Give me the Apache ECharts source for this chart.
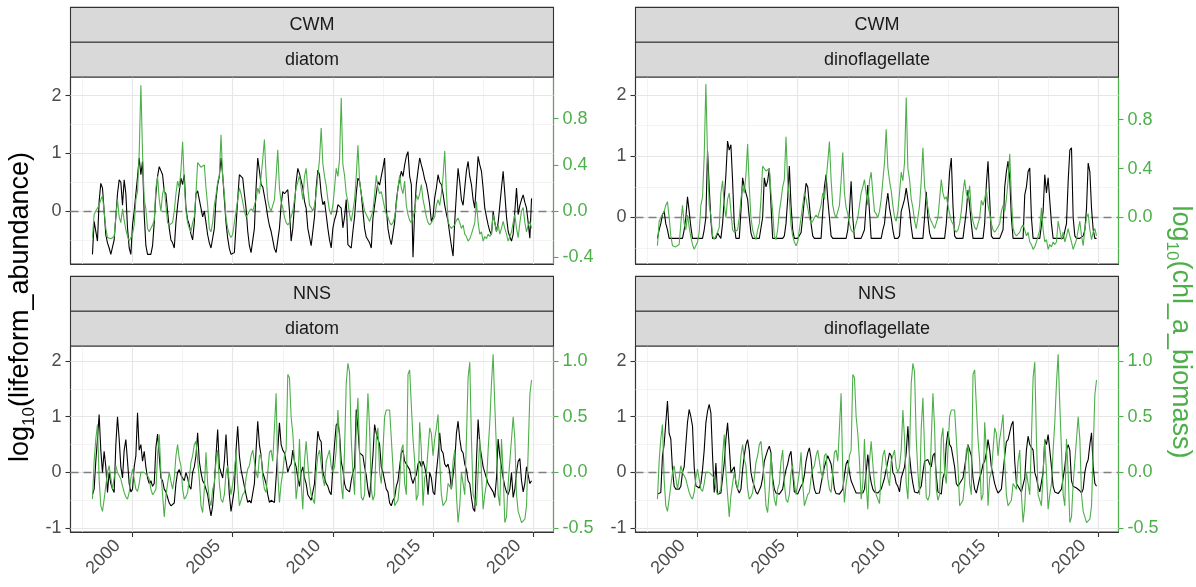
<!DOCTYPE html>
<html>
<head>
<meta charset="utf-8">
<script src="https://cdn.jsdelivr.net/npm/echarts@6/dist/echarts.min.js"></script>
<style>
  html, body { margin: 0; padding: 0; background: #fff; }
  #chart { width: 1196px; height: 587px; }
</style>
</head>
<body>
<div id="chart"></div>
<script>
// monthly series, Jan 1998 .. Dec 2019, one row per year
const startYear = 1998
const endYear = 2019
const yearTicks = [2000, 2005, 2010, 2015, 2020]
const abundanceTicksTop = [0, 1, 2]
const abundanceTicksBottom = [-1, 0, 1, 2]
const chlTicksTop = [-0.4, 0, 0.4, 0.8]
const chlTicksBottom = [-0.5, 0, 0.5, 1]
const regions = ['CWM', 'CWM', 'NNS', 'NNS']
const lifeforms = ['diatom', 'dinoflagellate', 'diatom', 'dinoflagellate']

// log10(lifeform_abundance), CWM diatom
const cwmDiatom = [
  -0.75, -0.18, -0.21, -0.52, 0.17, 0.48, 0.40, 0.00, -0.41, -0.55, -0.64, -0.75,
  -0.72, -0.50, -0.10, 0.30, 0.54, 0.50, 0.10, 0.54, 0.30, -0.29, -0.64, -0.75,
  -0.24, 0.00, 0.30, 0.60, 0.92, 0.63, 0.86, -0.06, -0.60, -0.75, -0.72, -0.75,
  -0.60, -0.20, 0.30, 0.60, 0.77, 0.77, 0.63, 0.34, 0.30, -0.01, -0.30, -0.50,
  -0.55, -0.64, -0.20, 0.10, 0.34, 0.57, 0.46, 0.63, 0.05, -0.15, -0.24, -0.40,
  -0.50, -0.20, 0.30, 0.35, 0.20, 0.05, -0.10, 0.00, -0.20, -0.41, -0.55, -0.64,
  -0.64, -0.30, 0.20, 0.46, 0.60, 0.92, 0.63, 0.20, -0.20, -0.47, -0.65, -0.75,
  -0.75, -0.72, -0.70, 0.20, 0.63, 0.60, 0.57, 0.30, 0.05, -0.35, -0.60, -0.72,
  -0.75, -0.30, 0.40, 0.92, 0.70, 0.46, 0.42, 0.40, 0.10, -0.10, -0.25, -0.35,
  -0.50, -0.65, -0.72, -0.75, -0.30, 0.10, 0.34, 0.30, 0.30, 0.37, 0.00, -0.52,
  -0.30, 0.10, 0.50, 0.74, 0.65, 0.63, 0.40, 0.17, 0.05, -0.30, -0.45, -0.60,
  -0.60, -0.10, 0.40, 0.71, 0.63, 0.30, 0.11, 0.17, -0.06, -0.30, -0.50, -0.64,
  -0.30, -0.15, -0.06, 0.11, 0.08, 0.05, -0.29, -0.10, 0.20, -0.58, -0.60, -0.64,
  -0.35, -0.10, 0.30, 0.57, 0.52, 0.30, 0.00, -0.30, -0.45, -0.47, -0.55, -0.64,
  -0.12, 0.10, 0.30, 0.51, 0.45, 0.60, 0.75, 0.92, 0.05, -0.30, -0.47, -0.58,
  -0.60, -0.20, 0.17, 0.40, 0.55, 0.69, 0.60, 0.80, 0.95, 1.03, 0.60, 0.46,
  -0.80, 0.00, 0.46, 0.70, 0.92, 0.80, 0.69, 0.55, 0.46, 0.30, 0.11, -0.18,
  -0.10, 0.23, 0.40, 0.63, 0.50, 0.46, 0.30, 0.10, -0.05, -0.18, -0.40, -0.60,
  -0.78, -0.18, 0.30, 0.74, 0.50, 0.20, 0.10, 0.40, 0.70, 0.86, 0.60, 0.46,
  0.20, 0.05, 0.50, 0.95, 0.80, 0.69, 0.40, 0.05, -0.10, -0.24, -0.35, -0.41,
  -0.01, -0.20, -0.35, -0.20, 0.10, 0.40, 0.69, 0.30, -0.10, -0.35, -0.45, -0.52,
  -0.40, 0.00, 0.40, -0.06, 0.10, 0.20, 0.28, 0.15, 0.05, -0.20, -0.47, 0.22
]

// log10(lifeform_abundance), CWM dinoflagellate
const cwmDino = [
  -0.34, -0.20, -0.10, 0.05, 0.10, -0.10, -0.20, -0.34, -0.34, -0.34, -0.34, -0.34,
  -0.34, -0.34, -0.34, -0.34, -0.20, 0.00, 0.34, 0.10, -0.15, -0.34, -0.34, -0.34,
  -0.34, -0.34, -0.34, -0.34, -0.20, 0.00, 1.09, 0.50, -0.05, -0.34, -0.34, -0.34,
  -0.25, -0.30, -0.34, -0.10, 0.30, 0.70, 1.25, 1.10, 1.19, 0.60, -0.10, -0.34,
  -0.34, -0.34, 0.10, 0.65, 0.50, 0.53, 0.30, 0.00, -0.25, -0.34, -0.34, -0.34,
  -0.34, -0.34, -0.34, 0.00, 0.65, 0.50, 0.60, 0.80, 0.20, -0.34, -0.34, -0.34,
  -0.34, -0.34, -0.34, -0.34, -0.30, -0.10, 0.30, 0.84, 0.20, -0.20, -0.34, -0.34,
  -0.34, -0.34, -0.25, 0.00, 0.30, 0.56, 0.50, 0.20, -0.10, -0.30, -0.34, -0.34,
  -0.34, -0.34, -0.34, -0.34, 0.50, 0.70, 0.30, 0.00, -0.30, -0.34, -0.34, -0.34,
  -0.34, -0.34, -0.34, -0.34, -0.34, -0.34, -0.20, 0.10, 0.59, 0.00, -0.34, -0.34,
  -0.34, -0.34, -0.34, -0.34, -0.20, 0.20, 0.53, 0.10, -0.34, -0.34, -0.34, -0.34,
  -0.34, -0.34, -0.34, -0.20, -0.10, 0.20, 0.40, 0.15, 0.00, -0.20, -0.34, -0.34,
  -0.34, -0.30, 0.10, 0.20, 0.30, 0.48, 0.48, 0.10, -0.15, -0.34, -0.34, -0.34,
  -0.34, -0.34, -0.34, -0.34, 0.00, 0.42, 0.00, -0.25, -0.34, -0.34, -0.34, -0.34,
  -0.34, -0.34, -0.34, -0.34, -0.34, -0.10, 0.30, 0.75, 0.97, 0.20, -0.30, -0.34,
  -0.34, -0.34, -0.34, -0.34, -0.34, 0.10, 0.45, 0.20, -0.10, -0.34, -0.34, -0.34,
  -0.34, -0.34, -0.34, -0.34, -0.10, 0.54, 0.92, 0.30, -0.30, -0.34, -0.34, -0.34,
  -0.34, -0.34, -0.34, -0.20, 0.50, 0.75, 0.92, 0.65, 0.00, -0.34, -0.34, -0.34,
  -0.34, -0.34, -0.34, -0.34, 0.37, 0.50, 0.75, 0.81, 0.00, -0.34, -0.34, -0.34,
  -0.34, -0.34, -0.34, 0.10, 0.70, 0.40, 0.65, 0.65, -0.10, -0.34, -0.34, -0.34,
  -0.34, -0.34, -0.34, -0.34, -0.34, -0.10, 0.59, 1.10, 1.14, 0.00, -0.30, -0.34,
  -0.34, -0.34, -0.34, -0.30, -0.20, 0.15, 0.89, 0.75, 0.15, -0.20, -0.34, -0.34
]

// log10(lifeform_abundance), NNS diatom
const nnsDiatom = [
  -0.40, -0.30, 0.20, 0.60, 1.04, 0.40, 0.00, 0.38, 0.10, -0.36, 0.00, -0.20,
  -0.30, -0.36, 0.50, 1.00, 0.60, 0.10, -0.10, 0.40, 0.59, 0.20, -0.20, -0.35,
  -0.30, 0.10, 0.30, 1.07, 0.40, 0.50, 0.20, 0.38, 0.10, -0.10, -0.20, -0.15,
  -0.25, -0.20, 0.45, 0.69, 0.30, -0.10, -0.15, -0.30, -0.35, -0.45, -0.55, -0.60,
  -0.60, -0.55, -0.20, 0.00, 0.05, -0.05, -0.10, -0.15, 0.00, -0.10, -0.25, -0.30,
  0.00, 0.10, 0.30, 0.71, 0.20, 0.00, -0.15, -0.20, -0.30, -0.40, -0.60, -0.78,
  -0.60, -0.20, 0.30, 0.77, 0.10, 0.00, -0.10, 0.20, 0.68, 0.10, -0.40, -0.70,
  -0.72, -0.30, 0.40, 0.83, 0.30, 0.05, -0.10, -0.25, -0.40, -0.54, -0.50, -0.55,
  -0.55, -0.20, 0.40, 0.92, 0.50, 0.30, 0.00, -0.10, -0.20, -0.40, -0.54, -0.50,
  -0.52, -0.54, -0.10, 0.40, 0.89, 0.50, 0.40, 0.35, 0.20, 0.00, 0.10, 0.15,
  0.40, 0.20, 0.10, -0.10, -0.25, 0.00, 0.10, -0.10, -0.20, -0.40, -0.45, -0.50,
  -0.35, -0.20, 0.30, 0.74, 0.60, 0.55, 0.00, -0.10, -0.20, -0.25, -0.35, -0.40,
  0.10, 0.50, 0.85, 0.89, 0.70, 0.20, 0.05, -0.20, -0.30, -0.32, -0.35, -0.15,
  0.00, 0.10, 1.13, 0.80, 0.35, 0.38, 0.30, 0.10, -0.05, -0.30, -0.45, -0.48,
  0.30, 0.86, 0.70, 0.60, 0.50, 0.10, 0.00, -0.15, -0.30, -0.35, -0.55, -0.60,
  -0.50, -0.45, -0.25, -0.15, 0.10, 0.35, 0.40, 0.20, 0.20, 0.10, 0.05, -0.10,
  -0.20, -0.10, -0.05, 0.15, 0.20, 0.10, 0.20, 0.10, -0.05, -0.40, 0.00, -0.10,
  -0.35, -0.40, 0.00, 0.30, 0.71, 0.40, 0.35, 0.15, 0.10, 0.15, 0.00, -0.30,
  -0.30, 0.20, 0.70, 0.92, 0.60, 0.40, 0.35, 0.15, 0.05, -0.15, -0.20, -0.45,
  -0.65, -0.70, 0.20, 0.95, 0.50, 0.30, 0.10, 0.00, -0.10, -0.20, -0.25, -0.30,
  -0.35, -0.45, -0.10, 0.60, 0.30, 0.10, -0.10, -0.25, -0.35, -0.40, -0.30, 0.00,
  -0.45, -0.30, 0.00, 0.20, 0.25, -0.15, -0.35, -0.20, 0.10, -0.05, -0.20, -0.15
]

// log10(lifeform_abundance), NNS dinoflagellate
const nnsDino = [
  -0.39, -0.36, -0.36, 0.30, 0.50, 0.50, 1.28, 0.70, 0.60, 0.05, -0.25, -0.30,
  -0.33, -0.30, -0.25, 0.00, 0.10, 0.50, 0.90, 1.13, 1.00, 0.83, 0.10, -0.24,
  -0.27, -0.28, -0.20, 0.05, 0.40, 0.89, 1.10, 1.22, 1.07, 0.30, -0.36, 0.17,
  -0.39, -0.37, -0.37, -0.10, 0.17, 0.60, 0.89, 0.47, 0.00, 0.05, 0.10, -0.20,
  -0.30, -0.37, -0.30, 0.05, 0.30, 0.50, 0.59, 0.40, 0.00, -0.15, -0.25, -0.35,
  -0.39, -0.37, -0.25, -0.10, 0.20, 0.30, 0.40, 0.47, 0.35, -0.10, -0.30, -0.37,
  -0.38, -0.39, -0.37, -0.30, -0.10, 0.05, 0.15, 0.30, 0.38, 0.00, -0.35, -0.38,
  -0.39, -0.36, -0.25, -0.20, -0.05, 0.20, 0.35, 0.44, 0.25, -0.10, -0.30, -0.38,
  -0.39, -0.37, -0.20, -0.05, 0.10, 0.20, 0.30, 0.32, 0.15, -0.05, -0.30, -0.38,
  -0.39, -0.39, -0.39, -0.30, -0.05, 0.15, 0.22, 0.00, -0.15, -0.18, -0.30, -0.37,
  -0.37, -0.37, -0.37, -0.37, -0.30, 0.00, 0.32, 0.00, -0.18, -0.30, -0.35, -0.37,
  -0.37, -0.35, -0.30, -0.20, -0.10, 0.05, 0.20, 0.35, 0.30, 0.00, -0.05, -0.20,
  -0.25, -0.35, -0.10, 0.00, 0.10, 0.35, 0.83, 0.30, 0.00, -0.20, -0.35, -0.37,
  -0.37, -0.30, -0.25, 0.00, 0.20, 0.23, 0.23, 0.15, 0.10, 0.30, 0.35, -0.05,
  -0.35, -0.38, -0.39, -0.10, 0.00, 0.50, 0.74, 0.50, 0.45, 0.45, 0.10, -0.20,
  -0.25, -0.20, -0.18, -0.10, 0.10, 0.30, 0.50, 0.53, 0.30, -0.10, -0.30, -0.37,
  -0.38, -0.10, 0.00, 0.15, 0.20, 0.35, 0.59, 0.40, 0.10, -0.05, -0.20, -0.30,
  -0.37, -0.38, -0.30, 0.00, 0.30, 0.55, 0.59, 0.60, 0.85, 0.92, 0.20, -0.20,
  -0.25, -0.30, -0.35, -0.38, -0.10, 0.40, 0.65, 0.50, 0.45, 0.40, 0.00, -0.10,
  -0.25, -0.35, -0.38, 0.00, 0.59, 0.50, 0.68, 0.40, 0.10, -0.25, -0.35, -0.38,
  -0.38, -0.38, -0.30, -0.10, 0.10, 0.40, 0.50, 0.40, -0.15, -0.25, -0.25, -0.28,
  -0.30, -0.33, -0.37, -0.30, 0.00, 0.15, 0.23, 0.50, 0.71, 0.10, -0.20, -0.25
]

// log10(chl_a_biomass), CWM
const cwmChl = [
  -0.23, -0.03, 0.00, 0.00, 0.05, 0.10, 0.13, 0.00, -0.15, -0.23, -0.24, -0.24,
  -0.23, -0.22, -0.05, 0.10, -0.05, -0.10, 0.02, -0.08, -0.16, -0.22, -0.26, -0.27,
  -0.20, -0.12, 0.10, 0.17, 0.50, 1.09, 0.50, 0.10, 0.02, -0.15, -0.18, -0.18,
  -0.12, -0.08, 0.20, 0.30, 0.10, 0.00, 0.15, 0.20, 0.05, -0.10, -0.12, -0.12,
  -0.10, 0.00, 0.15, 0.26, 0.20, 0.35, 0.60, 0.25, 0.00, -0.10, -0.15, -0.18,
  -0.10, -0.05, 0.15, 0.42, 0.40, 0.38, 0.37, 0.40, 0.20, 0.05, -0.15, -0.18,
  -0.10, 0.05, 0.14, 0.25, 0.31, 0.66, 0.30, 0.15, -0.06, -0.15, -0.20, -0.23,
  -0.20, -0.10, 0.00, 0.10, 0.20, 0.15, 0.08, 0.00, -0.05, -0.03, 0.00, 0.02,
  0.00, 0.05, 0.10, 0.20, 0.15, 0.30, 0.45, 0.62, 0.31, 0.10, 0.03, 0.00,
  0.00, 0.10, 0.30, 0.53, 0.20, 0.08, 0.03, -0.05, -0.10, -0.12, -0.10, -0.05,
  0.00, 0.10, 0.20, 0.25, 0.31, 0.20, 0.10, 0.30, 0.37, 0.20, 0.05, 0.03,
  0.00, 0.05, 0.15, 0.30, 0.45, 0.72, 0.41, 0.30, 0.22, 0.10, 0.00, -0.03,
  0.05, 0.20, 0.37, 0.30, 0.45, 0.98, 0.40, 0.31, 0.15, 0.08, -0.03, -0.09,
  0.00, 0.10, 0.30, 0.57, 0.26, 0.15, 0.08, 0.00, -0.03, -0.06, -0.09, -0.10,
  0.00, 0.15, 0.31, 0.20, 0.15, 0.17, 0.10, 0.03, -0.03, -0.05, -0.10, -0.12,
  -0.10, -0.05, 0.05, 0.20, 0.31, 0.20, 0.15, 0.26, 0.05, -0.03, -0.08, -0.10,
  -0.10, 0.00, 0.14, 0.10, 0.15, 0.23, 0.10, 0.03, -0.05, -0.10, -0.12, -0.10,
  -0.10, -0.05, 0.05, 0.10, 0.05, 0.15, 0.30, 0.52, 0.17, -0.09, -0.13, -0.15,
  -0.15, -0.12, -0.08, -0.06, -0.10, -0.15, -0.12, -0.20, -0.22, -0.26, -0.24, -0.20,
  -0.15, -0.10, 0.08, -0.10, -0.20, -0.18, -0.26, -0.22, -0.24, -0.20, -0.22, -0.20,
  -0.03, -0.10, -0.18, -0.12, -0.20, -0.15, -0.09, -0.15, -0.20, -0.26, -0.22, -0.18,
  -0.10, -0.03, -0.15, -0.23, -0.10, 0.00, 0.03, -0.10, -0.18, -0.12, -0.09, -0.15
]

// log10(chl_a_biomass), NNS
const nnsChl = [
  -0.24, 0.10, 0.30, 0.43, -0.06, -0.30, -0.35, -0.24, -0.12, 0.00, 0.06, -0.05,
  -0.15, -0.05, 0.06, 0.00, 0.00, -0.06, -0.12, -0.18, -0.22, -0.24, -0.18, -0.05,
  0.03, -0.06, -0.15, -0.17, -0.10, 0.00, 0.00, 0.00, 0.00, -0.03, -0.06, -0.15,
  -0.20, -0.18, -0.15, 0.15, 0.34, 0.00, -0.20, -0.40, -0.21, -0.10, 0.00, -0.08,
  -0.15, -0.05, 0.15, 0.25, 0.12, 0.06, -0.15, -0.24, -0.22, -0.18, -0.05, 0.09,
  0.15, 0.25, 0.28, 0.28, -0.06, -0.30, -0.36, -0.15, 0.18, -0.10, -0.24, -0.30,
  -0.15, -0.10, 0.10, 0.20, -0.10, -0.24, -0.27, -0.20, 0.00, 0.06, -0.10, -0.20,
  -0.21, 0.00, 0.18, -0.10, -0.30, -0.25, -0.20, -0.18, -0.05, 0.03, 0.06, 0.15,
  0.20, 0.20, 0.00, -0.05, 0.15, 0.17, -0.05, -0.15, -0.18, 0.00, 0.18, 0.20,
  0.10, 0.40, 0.71, 0.00, -0.27, -0.10, 0.00, 0.15, 0.20, 0.88, 0.85, 0.50,
  0.35, 0.10, -0.24, -0.10, 0.30, -0.10, -0.33, 0.10, 0.28, 0.08, -0.10, -0.20,
  -0.20, -0.28, 0.00, 0.15, 0.20, 0.20, -0.05, -0.12, 0.10, 0.15, 0.20, 0.05,
  0.00, 0.05, 0.20, 0.56, 0.30, -0.10, -0.24, 0.20, 0.80, 0.98, 0.90, 0.30,
  0.00, -0.20, 0.40, 0.67, 0.20, -0.22, -0.25, -0.20, 0.30, 0.71, 0.40, -0.15,
  -0.25, -0.20, 0.30, 0.40, 0.00, -0.10, 0.20, 0.50, 0.56, 0.56, 0.56, 0.56,
  0.05, -0.30, -0.30, -0.25, -0.10, 0.20, 0.25, -0.10, -0.20, 0.88, 0.92, 0.60,
  0.30, 0.10, -0.25, -0.20, 0.45, 0.20, -0.30, -0.05, 0.00, 0.20, 0.40, 0.35,
  0.15, 0.30, 0.40, 0.52, 0.10, -0.20, -0.30, -0.30, -0.25, -0.10, -0.10, -0.15,
  0.10, 0.20, -0.20, -0.45, -0.30, 0.00, 0.00, -0.20, 0.30, 0.85, 0.99, 0.30,
  -0.20, -0.25, -0.30, 0.00, 0.30, 0.00, -0.33, -0.20, -0.10, 0.20, 0.45, 0.80,
  1.06, 0.60, 0.20, -0.20, -0.30, 0.30, 0.00, -0.45, -0.40, -0.10, 0.10, 0.30,
  0.50, 0.30, -0.20, -0.35, -0.40, -0.45, -0.45, -0.42, -0.30, 0.20, 0.70, 0.83
]

const GREEN = '#4daf4a'
const FONT = '"Liberation Sans", Arial, sans-serif'
const xMin = 1996.904
const xMax = 2021.013
const panelWidth = 483
const stripH = 34.8

// panel boxes and y ranges (primary axis; chl axis is primary / 2)
const layout = [
  { left: 70.5, top: 77, height: 187, yMin: -0.917, yMax: 2.323, bottomRow: false },
  { left: 635.5, top: 77, height: 187, yMin: -0.759, yMax: 2.295, bottomRow: false },
  { left: 70.5, top: 346, height: 186, yMin: -1.07, yMax: 2.27, bottomRow: true },
  { left: 635.5, top: 346, height: 186, yMin: -1.07, yMax: 2.27, bottomRow: true }
]
const abundance = [cwmDiatom, cwmDino, nnsDiatom, nnsDino]
const chl = [cwmChl, cwmChl, nnsChl, nnsChl]

const months = []
for (let y = startYear; y <= endYear; y++) {
  for (let m = 0; m < 12; m++) months.push(y + m / 12)
}
const toPairs = vals => vals.map((v, i) => [months[i], v])

function gridLineData (p, majorY) {
  const major = { color: '#e6e6e6', width: 1.2, type: 'solid' }
  const minor = { color: '#f0f0f0', width: 0.8, type: 'solid' }
  const out = []
  const minorX = yearTicks.map(t => t - 2.5).concat([yearTicks[yearTicks.length - 1] + 2.5])
  minorX.filter(v => v > xMin && v < xMax).forEach(v => out.push({ xAxis: v, lineStyle: minor }))
  const minorY = majorY.map(t => t - 0.5).concat([majorY[majorY.length - 1] + 0.5])
  minorY.filter(v => v > p.yMin && v < p.yMax).forEach(v => out.push({ yAxis: v, lineStyle: minor }))
  yearTicks.forEach(v => out.push({ xAxis: v, lineStyle: major }))
  majorY.forEach(v => out.push({ yAxis: v, lineStyle: major }))
  out.push({ yAxis: 0, lineStyle: { color: '#7f7f7f', width: 1.3, type: [8, 5] } })
  return out
}

const grids = []
const xAxes = []
const yAxes = []
const series = []
const graphics = []

layout.forEach((p, i) => {
  const majorY = p.bottomRow ? abundanceTicksBottom : abundanceTicksTop
  const chlTicks = p.bottomRow ? chlTicksBottom : chlTicksTop
  grids.push({
    left: p.left, top: p.top, width: panelWidth, height: p.height,
    show: true, borderColor: '#333333', borderWidth: 1.1, backgroundColor: '#ffffff'
  })
  xAxes.push({
    gridIndex: i, type: 'value', min: xMin, max: xMax,
    axisLine: { show: true, onZero: false, lineStyle: { color: '#333333', width: 1.1 } },
    axisTick: { show: p.bottomRow, customValues: yearTicks, length: 5, lineStyle: { color: '#333333', width: 1.1 } },
    axisLabel: {
      show: p.bottomRow, customValues: yearTicks, rotate: 45, margin: -4,
      padding: [0, 21, 0, 0],
      color: '#4d4d4d', fontSize: 18, fontFamily: FONT,
      formatter: v => String(v)
    },
    splitLine: { show: false }
  })
  yAxes.push({
    gridIndex: i, type: 'value', position: 'left', min: p.yMin, max: p.yMax,
    axisLine: { show: true, onZero: false, lineStyle: { color: '#333333', width: 1.1 } },
    axisTick: { show: true, customValues: majorY, length: 5, lineStyle: { color: '#333333', width: 1.1 } },
    axisLabel: {
      customValues: majorY, margin: 9, color: '#4d4d4d', fontSize: 18, fontFamily: FONT,
      formatter: v => String(v)
    },
    splitLine: { show: false }
  })
  yAxes.push({
    gridIndex: i, type: 'value', position: 'right', min: p.yMin / 2, max: p.yMax / 2,
    axisLine: { show: true, onZero: false, lineStyle: { color: GREEN, width: 1.1 } },
    axisTick: { show: true, customValues: chlTicks, length: 5, lineStyle: { color: GREEN, width: 1.1 } },
    axisLabel: {
      customValues: chlTicks, margin: 9, color: GREEN, fontSize: 18, fontFamily: FONT,
      formatter: v => v.toFixed(1)
    },
    splitLine: { show: false }
  })
  series.push({
    type: 'line', xAxisIndex: i, yAxisIndex: 2 * i,
    data: toPairs(abundance[i]), symbol: 'none', z: 3,
    lineStyle: { color: '#000000', width: 1.1 },
    markLine: {
      silent: true, symbol: ['none', 'none'], label: { show: false }, z: 1,
      emphasis: { disabled: true }, animation: false,
      data: gridLineData(p, majorY)
    }
  })
  series.push({
    type: 'line', xAxisIndex: i, yAxisIndex: 2 * i + 1,
    data: toPairs(chl[i]), symbol: 'none', z: 4,
    lineStyle: { color: GREEN, width: 1.1 }
  })

  // facet strips
  const labels = [regions[i], lifeforms[i]]
  labels.forEach((txt, k) => {
    const y0 = p.top - (2 - k) * stripH
    graphics.push({
      type: 'rect', shape: { x: p.left, y: y0, width: panelWidth, height: stripH },
      style: { fill: '#d9d9d9', stroke: '#333333', lineWidth: 1.1 }, z: 10
    })
    graphics.push({
      type: 'text', x: p.left + panelWidth / 2, y: y0 + stripH / 2, z: 11,
      style: {
        text: txt, fill: '#1a1a1a', fontSize: 18, fontFamily: FONT,
        align: 'center', verticalAlign: 'middle', textAlign: 'center', textVerticalAlign: 'middle'
      }
    })
  })
})

function titleText (x, y, rot, body, color) {
  return {
    type: 'text', x: x, y: y, rotation: rot, z: 11,
    style: {
      text: '{m|log}{s|10}{m|' + body + '}',
      align: 'center', verticalAlign: 'middle', textAlign: 'center', textVerticalAlign: 'middle',
      rich: {
        m: { fontSize: 27, fontFamily: FONT, fill: color, color: color },
        s: { fontSize: 17, fontFamily: FONT, fill: color, color: color, padding: [16, 0, 0, 0] }
      }
    }
  }
}
graphics.push(titleText(21, 307, Math.PI / 2, '(lifeform_abundance)', '#000000'))
graphics.push(titleText(1180, 332, -Math.PI / 2, '(chl_a_biomass)', GREEN))

const chart = echarts.init(document.getElementById('chart'))
chart.setOption({
  animation: false,
  backgroundColor: '#ffffff',
  grid: grids,
  xAxis: xAxes,
  yAxis: yAxes,
  series: series,
  graphic: { elements: graphics }
})
</script>
</body>
</html>
